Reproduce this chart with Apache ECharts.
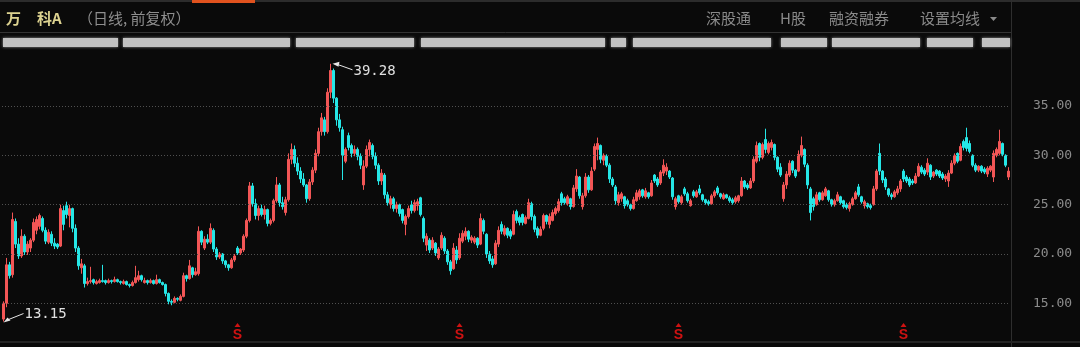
<!DOCTYPE html>
<html><head><meta charset="utf-8">
<script src="https://cdn.jsdelivr.net/npm/echarts/dist/echarts.min.js"></script>
<style>html,body{margin:0;padding:0;background:#0a0a0a;}#c{width:1080px;height:347px;}</style>
</head><body><div id="c"></div>
<script>
const opens=[
13.4,15.0,18.9,17.9,23.3,21.0,19.8,21.8,20.2,20.6,
21.4,22.4,22.8,23.6,22.4,21.2,22.0,21.1,21.0,20.8,
24.4,24.9,23.9,24.6,22.6,20.6,18.6,18.8,17.0,17.2,
17.4,17.0,17.1,17.3,17.3,17.1,17.3,17.2,17.4,17.2,
17.0,17.2,16.9,16.8,17.1,17.4,17.8,17.1,17.3,17.1,
17.3,17.0,17.4,17.1,16.9,16.0,15.2,15.1,15.5,15.3,
15.7,17.8,17.5,18.6,17.9,18.0,22.3,20.6,21.5,21.2,
22.4,20.5,19.7,20.0,19.3,18.9,18.6,19.4,20.6,20.1,
20.4,21.8,23.4,26.9,25.1,23.9,24.6,24.0,24.5,23.1,
23.4,25.4,27.0,25.2,24.2,25.5,29.6,30.6,29.2,28.4,
27.6,27.0,25.6,27.3,28.5,30.2,32.4,33.6,32.4,36.4,
38.6,35.8,33.6,32.6,29.4,32.0,31.0,30.2,30.6,29.9,
27.0,28.9,30.6,31.0,29.9,29.0,27.4,28.0,26.0,25.0,
25.6,24.6,25.0,24.5,23.0,23.8,25.0,24.4,24.9,25.7,
23.6,20.9,21.4,20.6,21.1,19.6,20.6,21.6,20.3,19.2,
18.5,20.4,19.6,21.3,21.8,22.3,21.4,21.2,21.6,21.0,
23.4,22.0,20.0,19.5,19.0,21.0,23.0,22.0,22.6,22.3,
22.0,24.3,23.7,24.0,23.1,23.6,25.1,23.8,22.6,21.9,
22.6,23.9,23.0,23.4,24.1,24.4,26.1,25.6,25.1,25.6,
24.8,26.6,27.8,24.8,25.9,27.8,26.5,28.6,30.6,31.0,
29.5,29.9,29.0,27.6,26.8,25.2,25.6,25.8,25.4,25.0,
24.6,25.4,25.8,26.5,25.8,26.2,25.9,28.0,27.6,27.2,
28.2,28.4,28.4,27.7,24.8,25.9,25.2,26.6,26.1,24.9,
26.3,25.8,26.6,26.0,25.5,25.3,25.1,25.9,26.7,26.1,
25.6,26.0,25.7,25.5,25.3,25.4,25.9,27.4,27.0,26.7,
27.4,29.4,31.2,29.8,31.6,30.3,30.8,31.1,29.8,28.8,
25.6,27.0,28.0,29.4,28.5,28.4,30.0,30.6,29.0,26.6,
25.6,25.0,26.2,25.5,25.9,26.4,25.5,25.0,25.4,25.8,
25.4,25.0,24.6,25.0,25.6,26.8,25.8,24.9,25.1,24.9,
25.0,26.6,30.2,28.4,27.6,26.6,26.0,25.8,26.2,26.6,
28.4,27.8,27.6,27.4,27.2,27.9,28.8,28.5,28.3,29.0,
27.9,28.5,28.4,28.1,27.6,27.4,28.2,29.2,30.2,29.5,
31.4,31.8,31.2,30.0,29.0,28.5,28.9,28.6,28.1,28.5,
27.8,30.0,30.2,31.2,30.0,27.8];
const highs=[
15.2,19.6,19.2,24.2,23.6,21.6,22.5,22.0,21.3,21.6,
23.6,23.8,24.1,23.8,22.7,22.5,22.3,21.6,21.1,25.0,
24.9,25.3,25.0,24.7,23.0,20.8,19.5,19.0,17.6,18.7,
17.5,17.4,17.5,18.9,17.4,17.5,17.4,17.7,17.5,17.3,
17.4,17.3,17.0,17.3,18.8,18.3,17.9,17.6,17.4,17.5,
17.4,17.9,17.5,17.2,17.0,16.1,15.4,15.7,15.6,15.9,
18.1,17.9,19.4,18.7,18.6,22.8,22.4,21.8,22.0,23.1,
22.6,20.7,20.2,20.1,19.4,19.0,19.6,20.0,20.8,20.6,
22.0,23.6,27.3,27.2,25.6,24.9,25.0,24.9,24.6,23.6,
25.6,27.8,27.2,25.8,25.8,30.2,31.2,31.0,29.8,28.8,
28.2,27.1,27.6,28.8,30.6,32.8,34.3,33.9,36.8,39.28,
38.8,35.9,34.2,32.9,30.8,32.3,31.2,31.0,30.8,30.2,
29.5,31.0,31.6,31.2,30.3,29.2,28.6,28.2,26.3,25.9,
25.8,25.3,25.1,24.6,24.0,24.9,25.4,25.5,25.6,25.8,
23.8,22.1,21.6,21.7,21.2,20.7,22.2,21.8,20.5,19.4,
21.1,20.8,22.1,22.4,22.7,22.4,21.9,21.8,21.7,24.1,
23.6,22.1,20.3,19.8,21.4,22.8,23.3,22.9,22.7,22.5,
24.4,24.5,23.9,24.1,23.9,25.6,25.3,24.0,22.8,22.8,
24.1,24.0,24.1,24.5,24.8,25.6,26.3,25.8,26.0,25.7,
27.0,28.6,27.9,26.2,28.2,28.0,28.8,31.2,31.8,31.1,
30.2,30.1,29.2,27.8,27.0,26.3,26.3,25.9,25.6,25.1,
25.8,26.5,26.6,26.6,26.7,26.3,27.5,28.1,27.8,28.5,
29.6,29.2,28.5,27.8,25.8,26.0,26.0,26.8,26.3,25.6,
26.5,26.5,27.0,26.1,25.6,25.5,26.1,26.5,26.9,26.2,
26.2,26.1,25.9,25.7,25.9,26.0,27.8,27.5,27.2,27.7,
29.9,31.4,31.3,31.3,32.7,31.4,31.6,31.2,29.9,29.2,
27.3,28.4,29.5,29.5,28.6,30.5,31.9,30.7,29.2,26.8,
25.8,26.3,26.3,26.4,26.8,26.5,25.6,25.6,26.3,25.9,
25.5,25.2,25.3,25.8,26.4,27.1,25.9,25.5,25.2,25.1,
26.9,28.6,31.2,28.5,27.8,26.7,26.2,26.5,26.9,27.6,
28.6,28.0,27.8,27.6,28.2,29.2,29.0,28.7,29.7,29.1,
28.4,28.6,28.5,28.3,28.1,28.5,29.5,30.2,30.3,31.2,
31.6,32.8,31.5,30.1,29.2,29.0,29.0,28.8,28.9,29.0,
30.5,30.8,32.6,31.3,30.1,28.8];
const lows=[
13.15,14.6,17.5,17.6,20.6,19.5,19.6,19.9,19.9,20.2,
21.2,22.0,22.5,22.2,21.0,21.0,20.8,20.5,20.5,20.7,
22.4,23.6,22.7,22.2,20.2,18.4,18.0,16.6,16.8,17.0,
16.9,16.9,17.0,17.1,16.9,17.0,17.0,17.1,17.1,16.9,
16.9,16.8,16.6,16.7,17.0,17.2,17.2,17.0,16.9,17.0,
16.9,16.9,17.0,16.8,15.7,14.9,14.8,15.0,15.2,15.2,
15.6,17.2,17.4,17.6,17.8,17.8,20.9,20.4,21.0,21.0,
20.2,19.4,19.5,19.0,18.6,18.3,18.5,19.2,19.9,19.9,
20.2,21.6,23.2,24.8,23.5,23.4,23.8,23.5,22.8,22.9,
23.2,25.2,24.8,24.5,23.9,25.3,29.1,28.8,28.0,27.2,
26.8,25.2,25.4,27.0,28.2,29.9,32.0,32.0,32.2,35.8,
35.3,33.0,32.4,27.5,29.2,30.5,29.8,29.9,29.5,28.6,
26.5,28.7,29.9,29.6,28.6,27.0,27.0,25.6,24.9,24.6,
24.3,24.2,23.8,23.1,21.9,23.6,24.1,24.2,24.4,23.8,
21.2,20.3,20.1,20.4,19.8,19.4,20.4,20.0,18.9,17.9,
18.4,19.0,19.4,21.1,21.4,21.2,21.1,21.0,20.6,20.9,
22.0,19.6,19.0,18.6,18.9,20.7,22.0,21.8,21.6,21.5,
21.9,23.1,22.9,22.9,23.0,23.5,23.4,22.2,21.6,21.8,
22.4,23.0,22.6,23.3,23.9,24.2,24.9,25.0,24.9,24.5,
24.7,26.3,25.6,24.5,25.7,26.2,26.4,28.4,29.5,29.2,
29.0,28.8,27.2,26.8,25.0,24.9,25.3,24.6,24.8,24.4,
24.5,25.3,25.5,25.7,25.6,25.6,25.8,27.2,26.8,27.0,
27.9,28.0,27.6,25.5,24.5,25.1,25.0,25.9,25.2,24.8,
25.7,25.7,26.0,25.3,25.0,24.9,25.0,25.7,26.0,25.6,
25.5,25.6,25.2,25.0,25.1,25.2,25.8,26.6,26.5,26.6,
27.2,29.2,29.4,29.6,30.2,30.1,30.5,29.5,28.3,27.8,
25.3,26.6,27.8,28.2,27.7,28.3,29.8,28.8,26.6,23.4,
24.4,24.9,25.3,25.4,25.8,25.3,24.8,24.8,25.3,25.0,
24.6,24.5,24.3,24.9,25.5,25.8,25.1,24.6,24.6,24.5,
24.9,26.4,28.0,27.2,26.5,25.8,25.5,25.7,26.0,26.3,
27.3,27.2,26.8,27.0,27.1,27.8,28.1,27.9,28.0,27.5,
27.7,27.9,27.7,27.5,27.3,26.8,28.1,29.0,29.2,29.4,
30.5,30.4,30.2,28.8,28.3,28.3,28.2,28.1,27.8,28.3,
27.3,29.8,30.0,29.9,28.8,27.5];
const closes=[
15.0,18.9,17.8,23.5,21.0,19.8,21.8,20.2,21.0,21.4,
23.2,23.5,23.9,22.4,21.3,22.2,21.1,20.8,20.7,24.6,
23.0,24.0,24.6,22.6,20.6,18.8,19.0,17.0,17.2,17.3,
17.1,17.2,17.3,17.2,17.1,17.3,17.2,17.4,17.2,17.1,
17.2,16.9,16.8,17.1,17.6,17.8,17.4,17.3,17.1,17.3,
17.0,17.4,17.1,16.9,16.0,15.2,15.1,15.5,15.4,15.7,
17.8,17.5,18.8,17.9,18.2,22.3,21.2,21.5,21.2,22.6,
20.5,19.7,20.0,19.3,18.9,18.6,19.4,19.8,20.1,20.5,
21.8,23.4,26.9,25.1,23.9,24.6,24.0,24.5,23.1,23.4,
25.4,27.0,25.2,24.8,25.5,29.6,30.6,29.2,28.4,27.6,
27.0,25.6,27.3,28.5,30.2,32.4,33.8,32.4,36.4,38.6,
35.8,33.6,32.8,30.0,30.6,30.8,30.2,30.6,29.9,29.0,
28.9,30.6,31.3,29.9,29.0,27.4,28.2,26.0,25.2,25.6,
24.6,25.0,24.1,23.4,23.8,24.6,24.4,25.2,25.3,24.0,
21.6,21.8,20.4,21.4,20.1,20.5,21.9,20.3,19.2,18.3,
20.6,19.4,21.6,22.1,22.3,21.5,21.7,21.6,20.9,23.6,
22.3,20.0,19.3,18.9,21.1,22.4,22.3,22.6,21.9,21.8,
24.0,23.4,23.2,23.2,23.7,25.2,23.8,22.5,21.9,22.5,
23.9,23.3,23.8,24.2,24.6,25.3,25.2,25.2,25.8,24.8,
26.7,27.9,25.9,25.9,27.8,26.5,28.4,30.9,31.2,29.6,
30.0,29.0,27.6,27.0,25.4,26.0,26.1,24.9,25.0,24.6,
25.5,26.2,26.4,25.9,26.4,25.8,27.2,27.4,27.0,28.3,
29.0,28.8,27.8,25.8,25.6,25.3,25.8,26.1,25.4,25.4,
25.9,26.3,26.2,25.5,25.2,25.1,25.9,26.3,26.2,25.8,
26.0,25.7,25.4,25.2,25.7,25.9,27.4,26.8,26.7,27.4,
29.6,31.0,29.8,31.1,30.6,31.2,31.3,29.8,28.6,28.0,
27.0,28.1,29.2,28.5,27.9,30.1,31.0,29.1,27.0,24.2,
24.8,26.0,25.5,26.2,26.6,25.5,25.0,25.4,26.0,25.2,
24.8,24.7,25.1,25.6,26.2,26.0,25.3,25.3,24.8,24.7,
26.6,28.4,28.4,27.5,26.8,26.0,25.8,26.3,26.6,27.4,
27.6,27.4,27.0,27.2,27.9,28.9,28.3,28.1,29.2,27.8,
28.3,28.1,27.9,27.7,27.9,28.2,29.2,30.0,29.4,30.9,
30.8,30.7,30.4,29.0,28.5,28.9,28.4,28.3,28.7,28.9,
30.2,30.6,31.4,30.1,29.0,28.4];
const yTicks=[15,20,25,30,35];
const yMin=10.57, yMax=40;
const signalIdx=[78,152,225,300];
const highIdx=109, lowIdx=0;
const highLabel='39.28', lowLabel='13.15';
const titleA='万', titleB='科A', titleSub='（日线, 前复权）';
const tabs=['深股通','H股','融资融券','设置均线'];

const cats=opens.map((_,i)=>String(i));
const kdata=opens.map((o,i)=>[o,closes[i],lows[i],highs[i]]);
const UP='#f25656', DOWN='#25e6e6';

const chart=echarts.init(document.getElementById('c'),null,{renderer:'canvas'});
chart.setOption({
  animation:false,
  backgroundColor:'#0a0a0a',
  grid:{left:2,right:70,top:56.7,bottom:0},
  xAxis:{type:'category',data:cats,show:false,boundaryGap:true},
  yAxis:{type:'value',position:'right',min:yMin,max:yMax,show:false,splitLine:{show:false}},
  series:[
    {type:'candlestick',data:kdata,barWidth:2,
     itemStyle:{color:UP,color0:DOWN,borderColor:UP,borderColor0:DOWN,borderWidth:1},
     markLine:{silent:true,symbol:'none',animation:false,
       lineStyle:{color:'#505050',type:[1,2],width:1},
       label:{show:true,position:'end',distance:23,color:'#8c8c8c',fontFamily:'DejaVu Sans Mono',fontSize:13,
         formatter:p=>Number(p.value).toFixed(2)},
       emphasis:{disabled:true},
       data:yTicks.map(v=>({yAxis:v}))}},
    {type:'scatter',data:signalIdx.map(i=>[i,12.8]),symbol:'triangle',symbolSize:[6,4],
     itemStyle:{color:'#ff1414'},silent:true,
     label:{show:true,position:'bottom',distance:1,formatter:'S',color:'#ff1414',
       fontWeight:'bold',fontSize:14,fontFamily:'Liberation Sans'}}
  ]
});

const ph=chart.convertToPixel({gridIndex:0},[highIdx,highs[highIdx]]);
const pl=chart.convertToPixel({gridIndex:0},[lowIdx,lows[lowIdx]]);
const blur=[[3,118],[123,290],[296,414],[421,605],[611,626],[633,771],[781,827],[832,920],[927,973],[982,1010]];
const g=[];
const T=(x,y,text,fill,font)=>({type:'text',x:x,y:y,silent:true,
  style:{text:text,fill:fill,font:font,verticalAlign:'middle',textVerticalAlign:'middle'}});
g.push({type:'rect',shape:{x:0,y:0,width:1080,height:2},style:{fill:'#2c2c2c'},silent:true});
g.push({type:'rect',shape:{x:192,y:0,width:63,height:3},style:{fill:'#e0521e'},silent:true});
g.push({type:'line',shape:{x1:0,y1:32.5,x2:1011,y2:32.5},style:{stroke:'#333',lineWidth:1},silent:true});
g.push({type:'line',shape:{x1:1011.5,y1:0,x2:1011.5,y2:347},style:{stroke:'#2e2e2e',lineWidth:1},silent:true});
g.push({type:'rect',shape:{x:0,y:341,width:1080,height:2},style:{fill:'#242424'},silent:true});
g.push(T(6,18,titleA,'#dcd290','bold 15px "Noto Sans CJK SC"'));
g.push(T(37,18,titleB,'#dcd290','bold 15px "Noto Sans CJK SC"'));
g.push(T(78,18,titleSub,'#8e8e8e','15px "Noto Sans CJK SC"'));
const tabX=[706,780,829,920];
tabs.forEach((t,i)=>g.push(T(tabX[i],18,t,'#8a8a8a','15px "Noto Sans CJK SC"')));
g.push({type:'polygon',shape:{points:[[990,17],[997,17],[993.5,21]]},style:{fill:'#8a8a8a'},silent:true});
blur.forEach(b=>g.push({type:'rect',shape:{x:b[0],y:38,width:b[1]-b[0],height:9},style:{fill:'#c2c2c2',shadowBlur:3,shadowColor:'#9a9a9a'},silent:true}));
// high annotation
const hx=ph[0]+2, hy=ph[1];
g.push({type:'polygon',shape:{points:[[hx,hy],[hx+7,hy-2],[hx+6,hy+3]]},style:{fill:'#e6e6e6'},silent:true});
g.push({type:'line',shape:{x1:hx+6,y1:hy+1,x2:hx+20,y2:hy+6},style:{stroke:'#e6e6e6',lineWidth:1},silent:true});
g.push(T(hx+21,hy+8,highLabel,'#e0e0e0','14px "DejaVu Sans Mono"'));
// low annotation
const lx=pl[0], ly=pl[1];
g.push({type:'polygon',shape:{points:[[lx,ly+1],[lx+4,ly-4],[lx+7,ly-1]]},style:{fill:'#e6e6e6'},silent:true});
g.push({type:'line',shape:{x1:lx+5,y1:ly-2,x2:lx+20,y2:ly-8},style:{stroke:'#e6e6e6',lineWidth:1},silent:true});
g.push(T(lx+21,ly-7,lowLabel,'#e0e0e0','14px "DejaVu Sans Mono"'));
chart.setOption({graphic:g});
</script></body></html>
